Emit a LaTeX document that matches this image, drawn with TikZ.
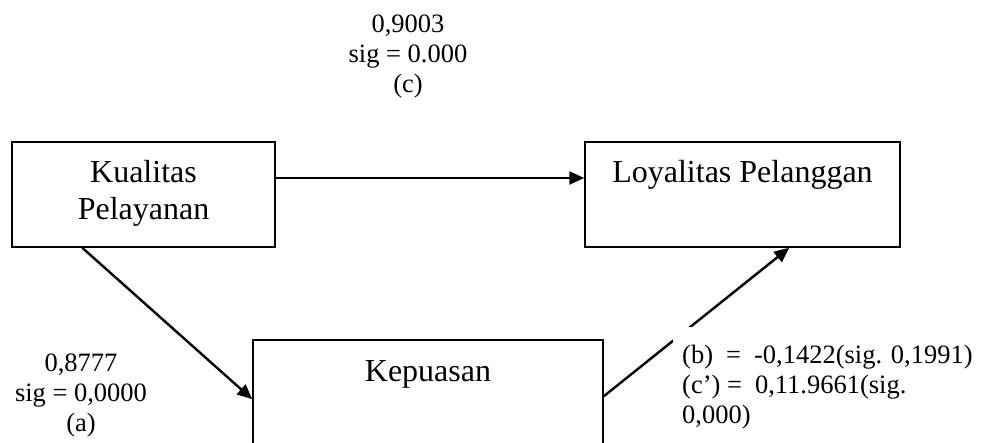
\documentclass[tikz,border=0pt]{standalone}
\usepackage{fontspec}
\setmainfont{Liberation Serif}
\usetikzlibrary{arrows.meta}
\begin{document}
\begin{tikzpicture}[x=1pt,y=-1pt,
  box/.style={draw=black, line width=1.5pt, inner sep=0pt},
  boxtext/.style={font=\fontsize{32}{37}\selectfont, inner sep=0pt, anchor=base},
  lbl/.style={font=\fontsize{26.5}{30}\selectfont, inner sep=0pt},
  arr/.style={line width=2.4pt, -{Triangle[length=15pt,width=13pt]}}
]
\useasboundingbox (0,0) rectangle (981,443);
\clip (0,0) rectangle (981,443);

\node[box, minimum width=263pt, minimum height=105pt] (kp) at (143.5,194.5) {};
\node[box, minimum width=315pt, minimum height=105pt] (lp) at (742.5,194.5) {};
\node[box, minimum width=350pt, minimum height=140pt] (kep) at (428,410) {};

\node[boxtext] (kpt1) at (143.5,183) {Kualitas};
\node[boxtext] (kpt2) at (143.5,220) {Pelayanan};
\node[boxtext] (lpt) at (742.5,183) {Loyalitas Pelanggan};
\node[boxtext] (kept) at (428,381) {Kepuasan};

\draw[arr] ([yshift=16.5pt]kp.east) -- ([yshift=16.5pt]lp.west);
\draw[arr] ([xshift=71pt]kp.south west) -- ([yshift=-60pt]kep.north west);
\draw[arr] ([yshift=-57pt]kep.north east) -- ([xshift=205pt]lp.south west);

\node[lbl, align=center, anchor=north] (lc) at (408,11) {\strut 0,9003\\sig = 0.000\\(c)};
\node[lbl, align=center, anchor=north] (la) at (81,350) {\strut 0,8777\\sig = 0,0000\\(a)};
\node[lbl, align=left, anchor=north west, fill=white, inner xsep=9pt, inner ysep=0pt] (lb) at (673,327)
  {\rule{0pt}{36pt}(b)\hspace{13pt}=\hspace{13pt}-0,1422(sig. 0,1991)\\(c’) =\hspace{13pt}0,11.9661(sig.\\0,000)};
\end{tikzpicture}
\end{document}
